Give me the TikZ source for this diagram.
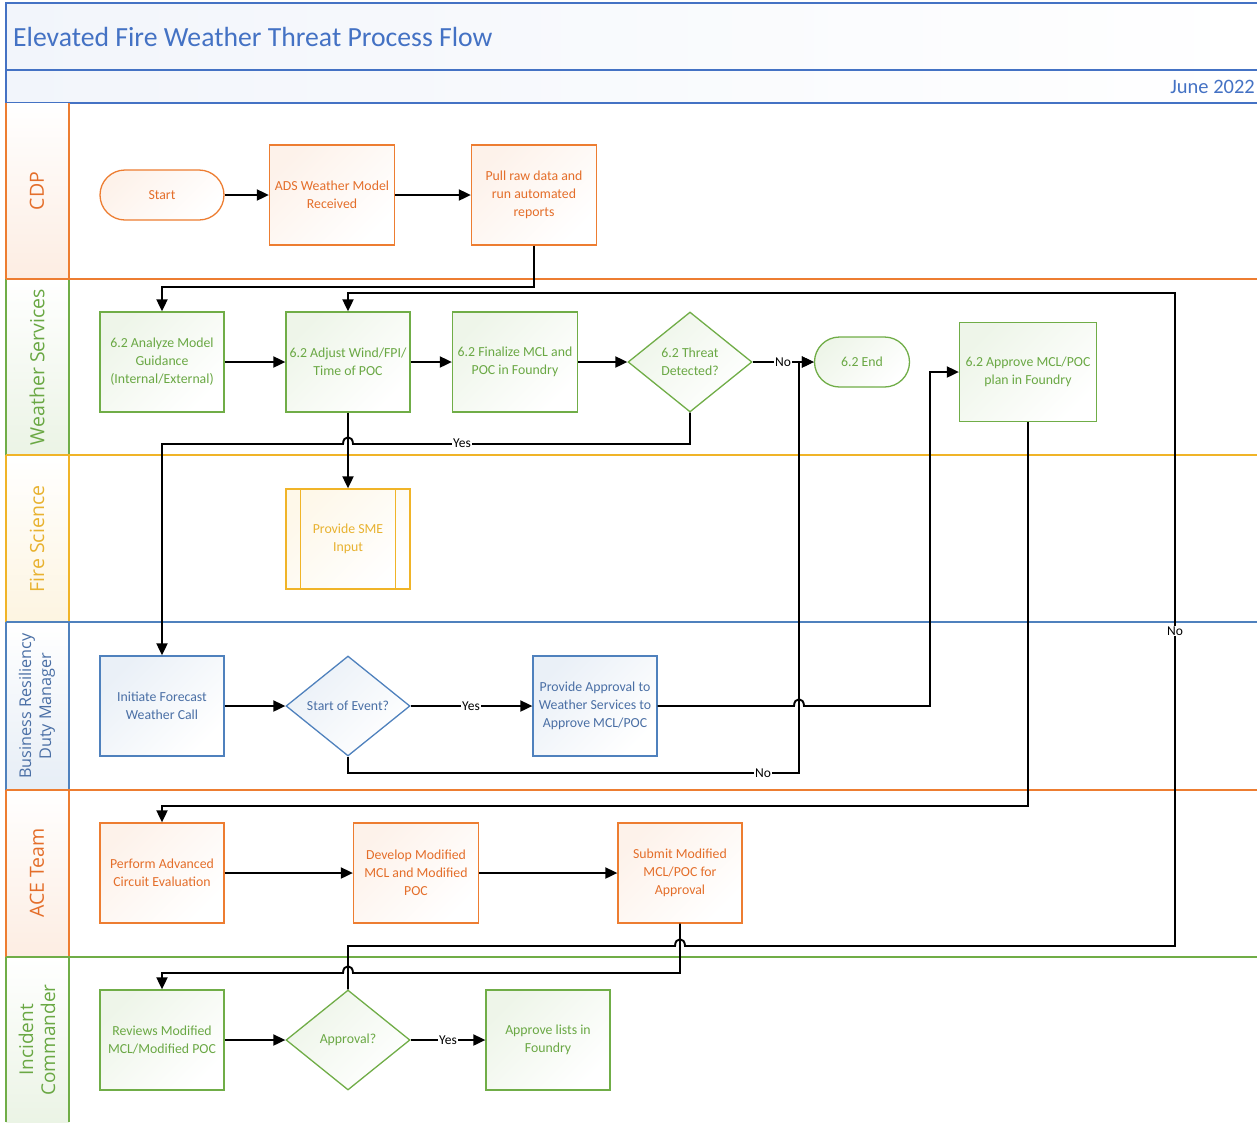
\documentclass[tikz,border=0pt]{standalone}
\usepackage{fontspec}
\setmainfont{Carlito}
\newfontfamily\lanefont{Open Sans}
\usetikzlibrary{arrows.meta,shapes.geometric}
\definecolor{cOr}{RGB}{237,125,49}
\definecolor{cOrT}{RGB}{228,110,42}
\definecolor{cGr}{RGB}{112,173,71}
\definecolor{cGrT}{RGB}{106,168,68}
\definecolor{cGo}{RGB}{240,180,40}
\definecolor{cGoT}{RGB}{232,178,48}
\definecolor{cBl}{RGB}{79,129,189}
\definecolor{cBlT}{RGB}{74,111,165}
\definecolor{cTi}{RGB}{68,114,196}
\tikzset{
  box/.style={rectangle, line width=1.3pt, minimum width=124pt, minimum height=100pt,
    inner sep=2pt, align=center, font=\fontsize{13.8}{18}\selectfont},
  orbox/.style={box, draw=cOr, text=cOrT, top color=cOr!10, bottom color=white, shading angle=45},
  grbox/.style={box, draw=cGr, text=cGrT, top color=cGr!12, bottom color=white, shading angle=45},
  gobox/.style={box, draw=cGo, text=cGoT, top color=cGo!10, bottom color=white, shading angle=45},
  blbox/.style={box, draw=cBl, text=cBlT, top color=cBl!12, bottom color=white, shading angle=45},
  termnode/.style={rounded corners=25pt, minimum height=50pt},
  decis/.style={diamond, aspect=1.24, inner sep=0pt, minimum width=124pt, minimum height=100pt},
  conn/.style={line width=1.9pt, black, -{Triangle[length=12pt,width=11pt]}},
  lbl/.style={fill=white, inner sep=1pt, text=black, font=\fontsize{13.5}{15}\selectfont},
  lanelbl/.style={rotate=90, align=center, font=\lanefont\fontsize{19.5}{22}\selectfont},
  laneline/.style={line width=1.4pt}
}
\begin{document}
\begin{tikzpicture}[x=1pt,y=-1pt]
\useasboundingbox (0,0) rectangle (1257,1122);
% title banner
\shade[left color=cTi!7, right color=white] (6,3) rectangle (1257,103);
\draw[cTi, laneline] (1257,3) -- (6,3) -- (6,103) -- (1257,103);
\draw[cTi, laneline] (6,70) -- (1257,70);
\node[anchor=west, text=cTi, font=\fontsize{27.7}{32}\selectfont, inner sep=0pt] (ttl) at (13,37) {Elevated Fire Weather Threat Process Flow};
\node[anchor=east, text=cTi, font=\fontsize{20.5}{24}\selectfont, inner sep=0pt] (dte) at (1255,87) {June 2022};
% lane label columns
\shade[bottom color=cOr!14, top color=white] (6,103) rectangle (69,279);
\shade[bottom color=cGr!14, top color=white] (6,279) rectangle (69,455);
\shade[bottom color=cGo!14, top color=white] (6,455) rectangle (69,622);
\shade[bottom color=cBl!14, top color=white] (6,622) rectangle (69,790);
\shade[bottom color=cOr!14, top color=white] (6,790) rectangle (69,957);
\shade[bottom color=cGr!14, top color=white] (6,957) rectangle (69,1122);
\draw[cOr, laneline] (6,103) -- (6,279) (69,103) -- (69,279);
\draw[cGr, laneline] (6,279) -- (6,455) (69,279) -- (69,455);
\draw[cGo, laneline] (6,455) -- (6,622) (69,455) -- (69,622);
\draw[cBl, laneline] (6,622) -- (6,790) (69,622) -- (69,790);
\draw[cOr, laneline] (6,790) -- (6,957) (69,790) -- (69,957);
\draw[cGr, laneline] (6,957) -- (6,1122) (69,957) -- (69,1122);
\draw[cOr, laneline] (6,279) -- (1257,279);
\draw[cGo, laneline] (6,455) -- (1257,455);
\draw[cBl, laneline] (6,622) -- (1257,622);
\draw[cOr, laneline] (6,790) -- (1257,790);
\draw[cGr, laneline] (6,957) -- (1257,957);
\node[lanelbl, text=cOrT] (l1) at (37,191) {CDP};
\node[lanelbl, text=cGrT] (l2) at (37,367) {Weather Services};
\node[lanelbl, text=cGoT] (l3) at (37,539) {Fire Science};
\node[lanelbl, text=cBlT, font=\lanefont\fontsize{16.2}{20}\selectfont] (l4) at (37,706) {Business Resiliency\\Duty Manager};
\node[lanelbl, text=cOrT] (l5) at (37,873) {ACE Team};
\node[lanelbl, text=cGrT, font=\lanefont\fontsize{19}{22}\selectfont] (l6) at (37,1040) {Incident\\Commander};
% CDP
\node[orbox, termnode] (start) at (162,195) {Start};
\node[orbox, minimum width=125pt] (ads) at (332,195) {ADS Weather Model\\Received};
\node[orbox, minimum width=125pt] (pull) at (534,195) {Pull raw data and\\run automated\\reports};
% Weather Services
\node[grbox] (ana) at (162,362) {6.2 Analyze Model\\Guidance\\(Internal/External)};
\node[grbox] (adj) at (348,362) {6.2 Adjust Wind/FPI/\\Time of POC};
\node[grbox, minimum width=125pt] (fin) at (515,362) {6.2 Finalize MCL and\\POC in Foundry};
\node[grbox, decis] (thr) at (690,362) {6.2 Threat\\Detected?};
\node[grbox, termnode, minimum width=95pt] (endn) at (862,362) {6.2 End};
\node[grbox, minimum width=137pt, minimum height=99pt] (apv) at (1028,372) {6.2 Approve MCL/POC\\plan in Foundry};
% Fire Science
\node[gobox] (sme) at (348,539) {Provide SME\\Input};
\draw[cGo, line width=1.3pt] ([xshift=15pt]sme.north west) -- ([xshift=15pt]sme.south west);
\draw[cGo, line width=1.3pt] ([xshift=-15pt]sme.north east) -- ([xshift=-15pt]sme.south east);
% Business Resiliency
\node[blbox] (init) at (162,706) {Initiate Forecast\\Weather Call};
\node[blbox, decis] (soe) at (348,706) {Start of Event?};
\node[blbox] (pa) at (595,706) {Provide Approval to\\Weather Services to\\Approve MCL/POC};
% ACE Team
\node[orbox] (pae) at (162,873) {Perform Advanced\\Circuit Evaluation};
\node[orbox, minimum width=125pt] (dev) at (416,873) {Develop Modified\\MCL and Modified\\POC};
\node[orbox] (sub) at (680,873) {Submit Modified\\MCL/POC for\\Approval};
% Incident Commander
\node[grbox] (rev) at (162,1040) {Reviews Modified\\MCL/Modified POC};
\node[grbox, decis] (apq) at (348,1040) {Approval?};
\node[grbox] (apl) at (548,1040) {Approve lists in\\Foundry};
% connectors
\draw[conn] (start) -- (ads);
\draw[conn] (ads) -- (pull);
\draw[conn] (pull.south) -- (534,287) -- (162,287) -- (ana.north);
\draw[conn] (ana) -- (adj);
\draw[conn] (adj) -- (fin);
\draw[conn] (fin) -- (thr);
\draw[conn] (thr) -- (endn);
\draw[conn] (adj) -- (sme);
\draw[conn] (thr.south) -- (690,444) -- (353,444) .. controls (353,435) and (343,435) .. (343,444) -- (162,444) -- (init.north);
\draw[conn] (init) -- (soe);
\draw[conn] (soe) -- (pa);
\draw[conn] (pa.east) -- (794,706) .. controls (794,697) and (804,697) .. (804,706) -- (930,706) -- (930,372) -- (apv.west);
\draw[conn] (soe.south) -- (348,773) -- (799,773) -- (799,362) -- (endn.west);
\draw[conn] (apv.south) -- (1028,806) -- (162,806) -- (pae.north);
\draw[conn] (pae) -- (dev);
\draw[conn] (dev) -- (sub);
\draw[conn] (sub.south) -- (680,973) -- (353,973) .. controls (353,964) and (343,964) .. (343,973) -- (162,973) -- (rev.north);
\draw[conn] (rev) -- (apq);
\draw[conn] (apq) -- (apl);
\draw[conn] (apq.north) -- (348,946) -- (675,946) .. controls (675,937) and (685,937) .. (685,946) -- (1175,946) -- (1175,293) -- (348,293) -- (adj.north);
% connector labels
\node[lbl] (n1) at (783,362) {No};
\node[lbl] (y1) at (462,443) {Yes};
\node[lbl] (y2) at (471,706) {Yes};
\node[lbl] (n2) at (763,773) {No};
\node[lbl] (y3) at (448,1040) {Yes};
\node[lbl] (n3) at (1175,631) {No};
\end{tikzpicture}
\end{document}
